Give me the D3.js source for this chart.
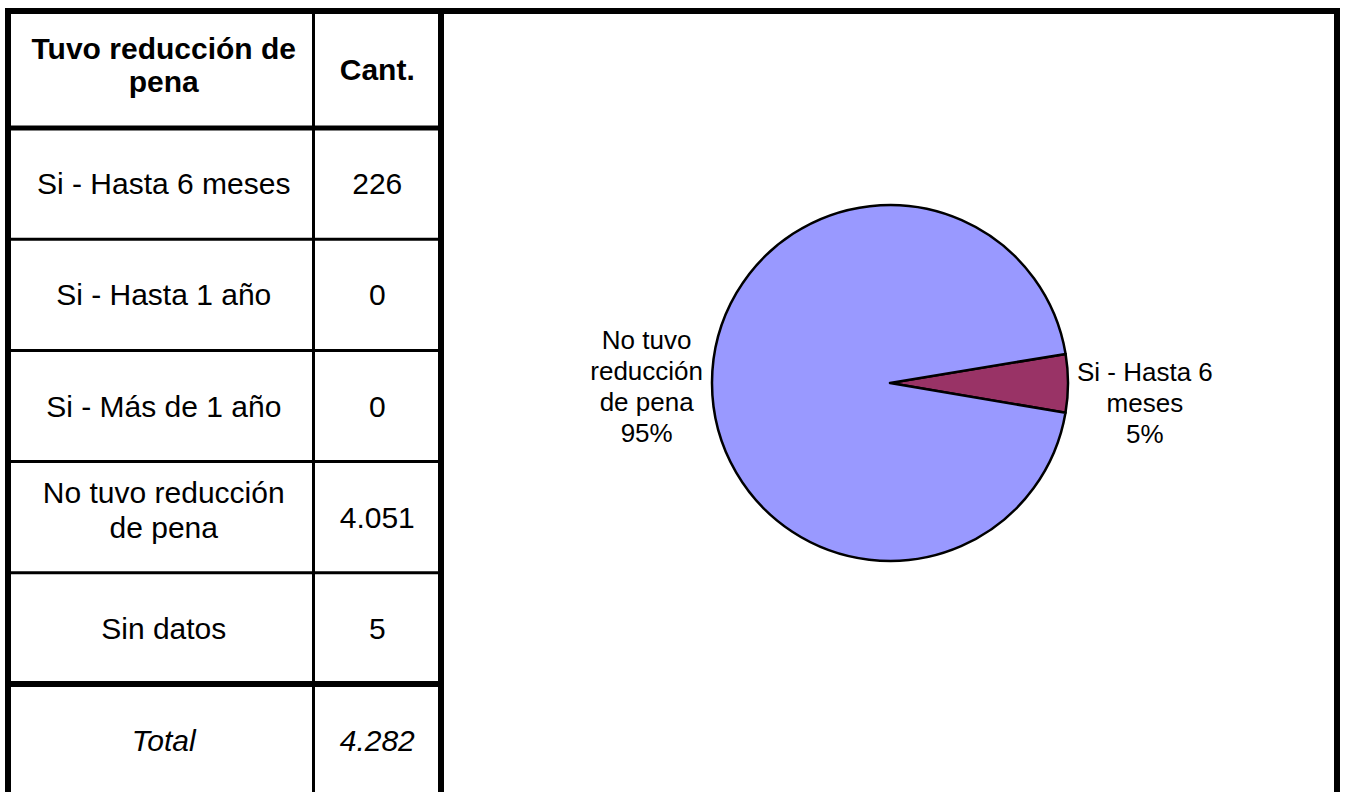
<!DOCTYPE html>
<html>
<head>
<meta charset="utf-8">
<script src="https://cdn.jsdelivr.net/npm/d3@7"></script>
<style>
  body { margin: 0; background: #fff; }
  text { font-family: "Liberation Sans", Arial, sans-serif; fill: #000; }
</style>
</head>
<body>
<div class="chart"></div>
<script>
// Table data
var headerLabel = ["Tuvo reducción de", "pena"];
var headerCount = "Cant.";
var categories = ["Si - Hasta 6 meses", "Si - Hasta 1 año", "Si - Más de 1 año", "No tuvo reducción de pena", "Sin datos"];
var categoryLines = [["Si - Hasta 6 meses"], ["Si - Hasta 1 año"], ["Si - Más de 1 año"], ["No tuvo reducción", "de pena"], ["Sin datos"]];
var counts = [226, 0, 0, 4051, 5];
var totalLabel = "Total";

// Pie data
var pieCategories = ["Si - Hasta 6 meses", "No tuvo reducción de pena"];
var pieValues = [226, 4051];
var pieLabelLines = [["Si - Hasta 6", "meses"], ["No tuvo", "reducción", "de pena"]];
var pieColors = ["#993366", "#9999FF"];

var svgWidth = 1346, svgHeight = 792;

var svg = d3.select(".chart")
    .append("svg")
    .attr("width", svgWidth)
    .attr("height", svgHeight);

var esFormat = d3.formatLocale({decimal: ",", thousands: ".", grouping: [3], currency: ["$", ""]}).format(",");
var pctFormat = d3.format(".0%");

//////////////////////////////////////////////////////////////////
// Table
//////////////////////////////////////////////////////////////////

var tableTop = 11, headerBottom = 128;
var colLeft = 8, colMid = 313.5, colRight = 441;

// row i (0..5, 5 = total) spans rowScale(i) .. rowScale(i+1)
var rowScale = d3.scaleLinear().domain([0, 6]).range([headerBottom, headerBottom + 6 * 111.2]);

var table = svg.append("g");

function multiLine(g, lines, x, cy, size, lineH, weight, style) {
    var t = g.append("text")
        .attr("text-anchor", "middle")
        .style("font-size", size + "px")
        .style("font-weight", weight || "normal")
        .style("font-style", style || "normal");
    var n = lines.length;
    lines.forEach(function(l, i) {
        t.append("tspan")
            .attr("x", x)
            .attr("y", cy + (i - (n - 1) / 2) * lineH + size * 0.35)
            .text(l);
    });
    return t;
}

var fs = 30;
var labelCx = (colLeft + colMid) / 2 + 3;
var countCx = (colMid + colRight) / 2;

// header
multiLine(table, headerLabel, labelCx, (tableTop + headerBottom) / 2 - 5, fs, 33, "bold");
multiLine(table, [headerCount], countCx, (tableTop + headerBottom) / 2, fs, 33, "bold");

// rows
categories.forEach(function(c, i) {
    var cy = (rowScale(i) + rowScale(i + 1)) / 2;
    multiLine(table, categoryLines[i], labelCx, cy - (categoryLines[i].length > 1 ? 7 : 0), fs, 35);
    multiLine(table, [esFormat(counts[i])], countCx, cy, fs, 35);
});

// total
var totalCy = (rowScale(5) + rowScale(6)) / 2 + 1;
multiLine(table, [totalLabel], labelCx, totalCy, fs, 35, "normal", "italic");
multiLine(table, [esFormat(d3.sum(counts))], countCx, totalCy, fs, 35, "normal", "italic");

// grid lines
var lines = table.append("g").attr("stroke", "#000").attr("fill", "none");
d3.range(1, 5).forEach(function(i) {
    lines.append("line")
        .attr("x1", colLeft).attr("x2", colRight)
        .attr("y1", rowScale(i)).attr("y2", rowScale(i))
        .attr("stroke-width", 3);
});
lines.append("line")
    .attr("x1", colLeft).attr("x2", colRight)
    .attr("y1", rowScale(5)).attr("y2", rowScale(5))
    .attr("stroke-width", 6);
lines.append("line")
    .attr("x1", colLeft).attr("x2", colRight)
    .attr("y1", headerBottom).attr("y2", headerBottom)
    .attr("stroke-width", 5);
lines.append("line")
    .attr("x1", colMid).attr("x2", colMid)
    .attr("y1", tableTop).attr("y2", svgHeight + 10)
    .attr("stroke-width", 3);
lines.append("line")
    .attr("x1", colRight).attr("x2", colRight)
    .attr("y1", tableTop - 3).attr("y2", svgHeight + 10)
    .attr("stroke-width", 6);

// outer frame
lines.append("line")
    .attr("x1", 5).attr("x2", 1340)
    .attr("y1", tableTop).attr("y2", tableTop)
    .attr("stroke-width", 6);
lines.append("line")
    .attr("x1", colLeft).attr("x2", colLeft)
    .attr("y1", tableTop - 3).attr("y2", svgHeight + 10)
    .attr("stroke-width", 6);
lines.append("line")
    .attr("x1", 1337).attr("x2", 1337)
    .attr("y1", tableTop - 3).attr("y2", svgHeight + 10)
    .attr("stroke-width", 6);

//////////////////////////////////////////////////////////////////
// Pie
//////////////////////////////////////////////////////////////////

var cx = 890, cy = 383, radius = 178;
var startDeg = 80.6;

var pie = d3.pie()
    .sort(null)
    .value(function(d) { return d; })
    .startAngle(startDeg * Math.PI / 180)
    .endAngle((startDeg + 360) * Math.PI / 180);

var arc = d3.arc().innerRadius(0).outerRadius(radius);

var pieG = svg.append("g").attr("transform", "translate(" + cx + "," + cy + ")");
var arcs = pie(pieValues);
var total = d3.sum(pieValues);

pieG.selectAll("path")
    .data(arcs)
    .enter().append("path")
    .attr("d", arc)
    .attr("fill", function(d, i) { return pieColors[i]; })
    .attr("stroke", "#000")
    .attr("stroke-width", 2.5)
    .attr("stroke-linejoin", "round");

// labels
var pfs = 26, plh = 31;
arcs.forEach(function(d, i) {
    var lbl = pieLabelLines[i].concat([pctFormat(d.value / total)]);
    var mid = (d.startAngle + d.endAngle) / 2;
    var sx = Math.sin(mid), sy = -Math.cos(mid);
    var t = multiLine(pieG, lbl, 0, 0, pfs, plh);
    var w = t.node().getBBox().width;
    var dist = radius + 9 + w / 2;
    var lx = sx * dist;
    var ly = sy * dist + (sx > 0 ? 19 : 4);
    t.selectAll("tspan")
        .attr("x", lx)
        .attr("y", function(_, j) { return ly + (j - (lbl.length - 1) / 2) * plh + pfs * 0.35; });
});
</script>
</body>
</html>
